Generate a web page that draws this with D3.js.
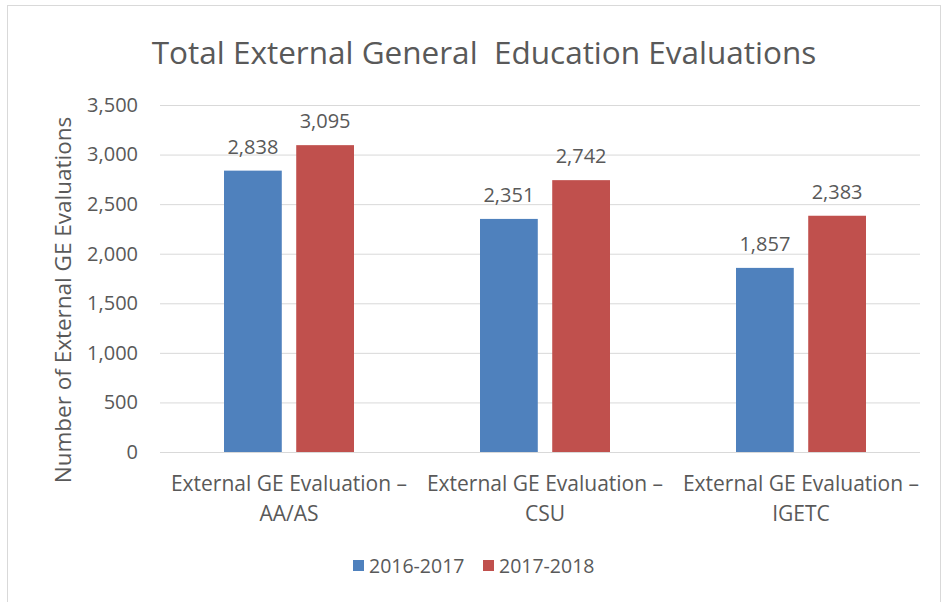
<!DOCTYPE html>
<html>
<head>
<meta charset="utf-8">
<script src="https://cdn.jsdelivr.net/npm/d3@7"></script>
<style>
  body { margin: 0; background: #fff; }
  svg text { font-family: "Open Sans", sans-serif; fill: #595959; }
</style>
</head>
<body>
<svg id="chart"></svg>
<script>
var categories = ["External GE Evaluation – AA/AS", "External GE Evaluation – CSU", "External GE Evaluation – IGETC"];
var catLine1 = ["External GE Evaluation –", "External GE Evaluation –", "External GE Evaluation –"];
var catLine2 = ["AA/AS", "CSU", "IGETC"];
var seriesNames = ["2016-2017", "2017-2018"];
var values2016 = [2838, 2351, 1857];
var values2017 = [3095, 2742, 2383];
var yTicks = [0, 500, 1000, 1500, 2000, 2500, 3000, 3500];
var colors = ["#4F81BD", "#C0504D"];

var svgWidth = 945, svgHeight = 602;
var svg = d3.select("#chart")
    .attr("width", svgWidth)
    .attr("height", svgHeight);

// outer chart border
svg.append("rect")
    .attr("x", 7.5).attr("y", 5.5)
    .attr("width", 933).attr("height", 600)
    .attr("fill", "#fff")
    .attr("stroke", "#d9d9d9");

svg.append("text")
    .attr("x", 484).attr("y", 64)
    .attr("text-anchor", "middle")
    .attr("font-size", 31.5)
    .style("white-space", "pre")
    .text("Total External General  Education Evaluations");

var x = d3.scaleBand()
    .domain(categories)
    .range([161, 929]);

var x1 = d3.scaleBand()
    .domain(seriesNames)
    .range([x.bandwidth() / 2 - 65, x.bandwidth() / 2 + 65])
    .paddingInner(0.2);

var y = d3.scaleLinear()
    .domain([0, 3500])
    .range([452, 105]);

// gridlines
svg.append("g")
    .selectAll("line")
    .data(yTicks)
    .enter()
    .append("line")
    .attr("x1", 160).attr("x2", 920)
    .attr("y1", function(d) { return y(d) + 0.5; })
    .attr("y2", function(d) { return y(d) + 0.5; })
    .attr("stroke", "#d9d9d9")
    .attr("stroke-width", 1);

var yAxis = svg.append("g")
    .attr("transform", "translate(138,0)")
    .call(d3.axisLeft(y).tickValues(yTicks).tickSize(0).tickPadding(0).tickFormat(d3.format(",")));
yAxis.select(".domain").remove();
yAxis.selectAll("text")
    .attr("font-size", 20)
    .attr("font-family", null)
    .attr("fill", null);

svg.append("text")
    .attr("transform", "translate(71,300) rotate(-90)")
    .attr("text-anchor", "middle")
    .attr("font-size", 22.5)
    .text("Number of External GE Evaluations");

var data = categories.map(function(c, i) {
    return { cat: c, vals: [values2016[i], values2017[i]] };
});

var groups = svg.selectAll(".grp")
    .data(data)
    .enter()
    .append("g")
    .attr("class", "grp")
    .attr("transform", function(d) { return "translate(" + x(d.cat) + ",0)"; });

groups.selectAll("rect")
    .data(function(d) { return d.vals.map(function(v, j) { return { s: seriesNames[j], v: v, j: j }; }); })
    .enter()
    .append("rect")
    .attr("x", function(d) { return x1(d.s); })
    .attr("y", function(d) { return y(d.v); })
    .attr("width", x1.bandwidth())
    .attr("height", function(d) { return y(0) - y(d.v); })
    .attr("fill", function(d) { return colors[d.j]; });

groups.selectAll(".val")
    .data(function(d) { return d.vals.map(function(v, j) { return { s: seriesNames[j], v: v }; }); })
    .enter()
    .append("text")
    .attr("class", "val")
    .attr("x", function(d) { return x1(d.s) + x1.bandwidth() / 2; })
    .attr("y", function(d) { return y(d.v) - 17; })
    .attr("text-anchor", "middle")
    .attr("font-size", 20)
    .text(function(d) { return d3.format(",")(d.v); });

// category labels
groups.append("text")
    .attr("x", x.bandwidth() / 2)
    .attr("y", 491)
    .attr("text-anchor", "middle")
    .attr("font-size", 21)
    .text(function(d, i) { return catLine1[i]; });
groups.append("text")
    .attr("x", x.bandwidth() / 2)
    .attr("y", 521)
    .attr("text-anchor", "middle")
    .attr("font-size", 21)
    .text(function(d, i) { return catLine2[i]; });

// legend
var legendX = [353, 483];
var legend = svg.selectAll(".legend")
    .data(seriesNames)
    .enter()
    .append("g")
    .attr("class", "legend")
    .attr("transform", function(d, i) { return "translate(" + legendX[i] + ",566)"; });
legend.append("rect")
    .attr("x", 0).attr("y", -6)
    .attr("width", 11).attr("height", 11)
    .attr("fill", function(d, i) { return colors[i]; });
legend.append("text")
    .attr("x", 16).attr("y", 7)
    .attr("font-size", 19.5)
    .text(function(d) { return d; });
</script>
</body>
</html>
